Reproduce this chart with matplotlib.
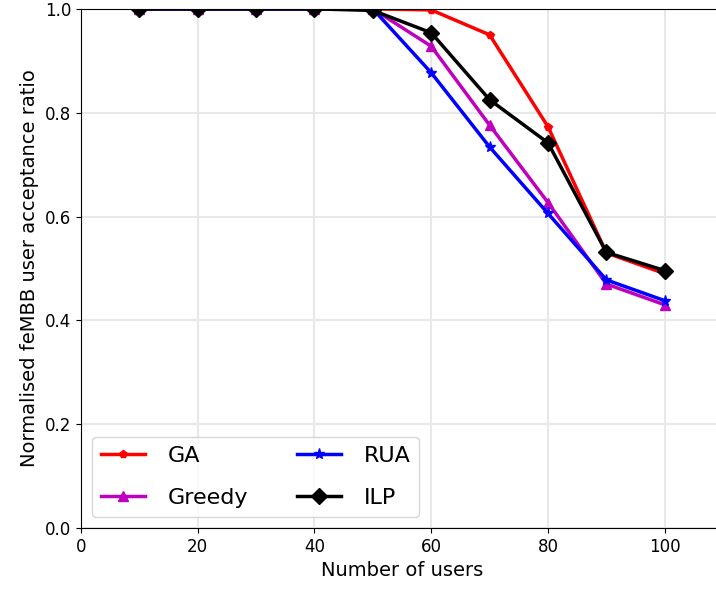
import matplotlib
matplotlib.use('Agg')
import matplotlib.pyplot as plt

users = [10, 20, 30, 40, 50, 60, 70, 80, 90, 100]
ga = [1.0, 1.0, 1.0, 1.0, 1.0, 0.998, 0.950, 0.773, 0.530, 0.490]
greedy = [1.0, 1.0, 1.0, 1.0, 1.0, 0.928, 0.776, 0.627, 0.470, 0.430]
rua = [1.0, 1.0, 1.0, 1.0, 1.0, 0.877, 0.734, 0.606, 0.478, 0.438]
ilp = [1.0, 1.0, 1.0, 1.0, 0.997, 0.954, 0.825, 0.742, 0.531, 0.496]

fig = plt.figure(figsize=(7.16, 5.92), dpi=100)
ax = fig.add_axes([0.113, 0.108, 0.897, 0.877])

ax.plot(users, ga, color='red', marker='p', markersize=6, linewidth=2.5, label='GA')
ax.plot(users, greedy, color='m', marker='^', markersize=7, linewidth=2.5, label='Greedy')
ax.plot(users, rua, color='blue', marker='*', markersize=8, linewidth=2.5, label='RUA')
ax.plot(users, ilp, color='black', marker='D', markersize=8, linewidth=2.5, label='ILP')

ax.set_xlim(0, 110)
ax.set_ylim(0, 1.0)
ax.set_xticks([0, 20, 40, 60, 80, 100])
ax.set_yticks([0.0, 0.2, 0.4, 0.6, 0.8, 1.0])
ax.tick_params(labelsize=12)
ax.grid(True, color='#e8e8e8', linewidth=1.5)
ax.set_xlabel('Number of users', fontsize=14)
ax.set_ylabel('Normalised feMBB user acceptance ratio', fontsize=14)
ax.legend(loc='lower left', ncol=2, fontsize=16, columnspacing=2.2,
          labelspacing=1.0, handletextpad=1.0, borderaxespad=0.5)

fig.savefig('out.png', dpi=100)
